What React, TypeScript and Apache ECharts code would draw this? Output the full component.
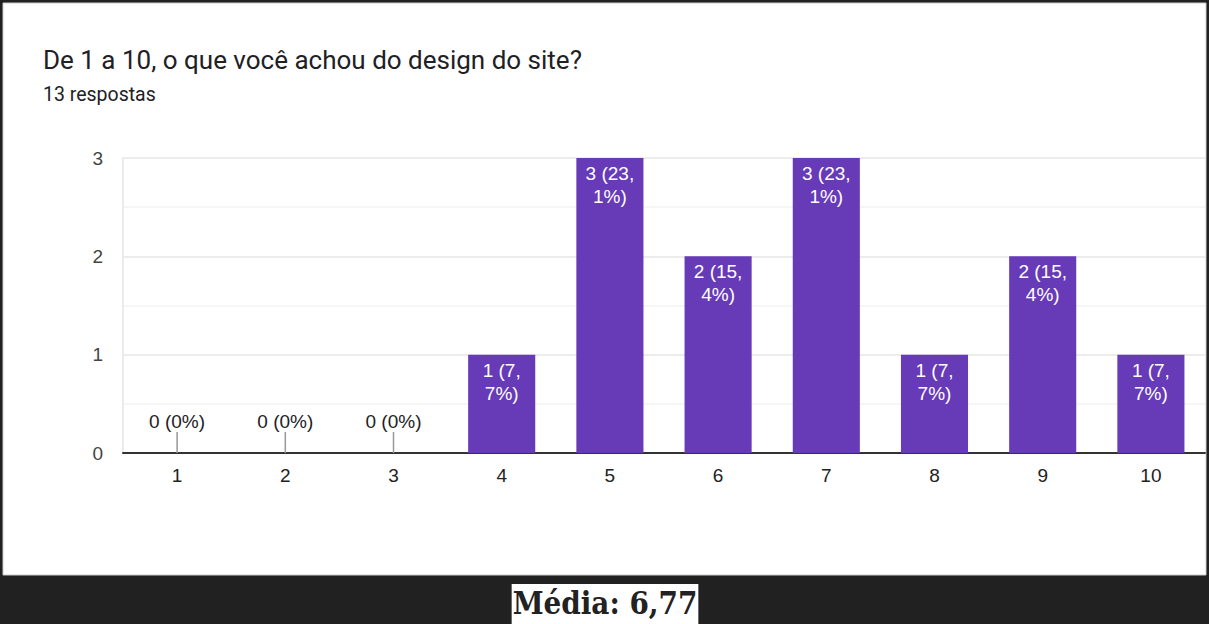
import React, { useEffect, useRef } from "react";
import * as echarts from "echarts";

const titleText = "De 1 a 10, o que você achou do design do site?";
const subtitleText = "13 respostas";
const categories = ["1", "2", "3", "4", "5", "6", "7", "8", "9", "10"];
const counts = [0, 0, 0, 1, 3, 2, 3, 1, 2, 1];
const totalResponses = 13;
const averageText = "Média: 6,77";

function labelFor(v: number): string {
  if (v === 0) return "0 (0%)";
  const pct = ((v / totalResponses) * 100).toFixed(1).split(".");
  return `${v} (${pct[0]},\n${pct[1]}%)`;
}

export default function App() {
  const ref = useRef<HTMLDivElement>(null);
  useEffect(() => {
    if (!ref.current) return;
    const chart = echarts.init(ref.current, null, { renderer: "svg" });
    const font = "Roboto";
    const labFont = "Liberation Sans";
    const barData = counts.map((v) =>
      v === 0
        ? {
            value: v,
            label: {
              position: "top",
              distance: 20,
              color: "#222222",
            },
          }
        : { value: v }
    );
    chart.setOption({
      animation: false,
      backgroundColor: "#212121",
      textStyle: { fontFamily: font },
      title: {
        text: titleText,
        subtext: subtitleText,
        left: 40,
        top: 44,
        itemGap: 6,
        padding: [0, 3],
        textStyle: { fontSize: 26, lineHeight: 32, color: "#202124", fontWeight: "normal", fontFamily: font },
        subtextStyle: { fontSize: 19.5, lineHeight: 24, color: "#202124", fontFamily: font },
      },
      grid: { left: 123, right: 4, top: 158, bottom: 171 },
      xAxis: {
        type: "category",
        data: categories,
        axisTick: { show: false },
        axisLine: { lineStyle: { color: "#333333", width: 2 } },
        axisLabel: { color: "#222222", fontSize: 19, margin: 13, fontFamily: labFont },
      },
      yAxis: {
        type: "value",
        min: 0,
        max: 3,
        interval: 1,
        axisLine: { show: true, lineStyle: { color: "#ebebeb", width: 2 } },
        axisTick: { show: false },
        axisLabel: { color: "#444444", fontSize: 19, margin: 20, fontFamily: labFont },
        splitLine: { lineStyle: { color: "#e6e6e6", width: 1.5 } },
        minorTick: { show: false, splitNumber: 2 },
        minorSplitLine: { show: true, lineStyle: { color: "#f3f3f3", width: 1.5 } },
      },
      series: [
        {
          type: "bar",
          data: barData,
          barWidth: "62%",
          itemStyle: { color: "#673ab7" },
          label: {
            show: true,
            position: "insideTop",
            distance: 4,
            color: "#ffffff",
            fontSize: 19,
            lineHeight: 23,
            fontFamily: labFont,
            formatter: (p: any) => labelFor(p.value),
          },
          z: 3,
        },
        {
          type: "custom",
          data: counts.map((v, i) => [i, v]),
          renderItem: (params: any, api: any) => {
            const v = api.value(1);
            if (v !== 0) return null;
            const pt = api.coord([api.value(0), 0]);
            return {
              type: "line",
              shape: { x1: pt[0], y1: pt[1], x2: pt[0], y2: pt[1] - 21 },
              style: { stroke: "#999999", lineWidth: 1.5 },
            };
          },
          z: 4,
        },
      ],
      graphic: {
        elements: [
          {
            type: "rect",
            z: -10,
            shape: { x: 3, y: 3, width: 1203, height: 572 },
            style: { fill: "#ffffff", stroke: "#cccccc", lineWidth: 1 },
          },
          {
            type: "text",
            z: 100,
            x: 605,
            y: 584,
            style: {
              text: averageText,
              fontFamily: "DejaVu Serif Condensed, DejaVu Serif",
              fontWeight: "bold",
              fontSize: 31,
              fill: "#222222",
              backgroundColor: "#ffffff",
              padding: [3, 1, 6, 1],
              align: "center",
              verticalAlign: "top",
            },
          },
        ],
      },
    });
    return () => chart.dispose();
  }, []);
  return (
    <div
      ref={ref}
      style={{ position: "absolute", left: 0, top: 0, width: 1209, height: 624 }}
    />
  );
}
